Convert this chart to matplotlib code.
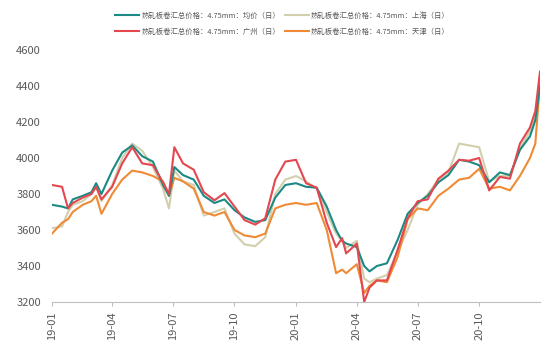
import numpy as np
import pandas as pd
import matplotlib
matplotlib.use("Agg")
import matplotlib.pyplot as plt
import matplotlib.dates as mdates

plt.rcParams['font.family'] = ['Noto Sans CJK SC', 'DejaVu Sans']

dates = ['2019-01-01','2019-01-16','2019-01-25','2019-02-01','2019-02-16','2019-03-01','2019-03-08',
         '2019-03-16','2019-04-01','2019-04-16','2019-05-01','2019-05-16','2019-06-01','2019-06-16',
         '2019-06-25','2019-07-03','2019-07-16','2019-08-01','2019-08-16','2019-09-01','2019-09-16',
         '2019-10-01','2019-10-16','2019-11-01','2019-11-16','2019-12-01','2019-12-16','2020-01-01',
         '2020-01-16','2020-02-01','2020-02-16','2020-03-01','2020-03-10','2020-03-16','2020-04-01',
         '2020-04-12','2020-04-20','2020-05-01','2020-05-16','2020-06-01','2020-06-16','2020-07-01',
         '2020-07-16','2020-08-01','2020-08-16','2020-09-01','2020-09-16','2020-10-01','2020-10-16',
         '2020-11-01','2020-11-16','2020-12-01','2020-12-16','2020-12-24','2020-12-31']

avg = [3740, 3730, 3720, 3770, 3790, 3810, 3860, 3800, 3930, 4030, 4070, 4010, 3980, 3850,
       3790, 3950, 3905, 3880, 3790, 3750, 3770, 3710, 3670, 3645, 3655, 3780, 3850, 3860,
       3840, 3835, 3730, 3600, 3540, 3525, 3505, 3400, 3370, 3400, 3415, 3545, 3690, 3750,
       3790, 3865, 3905, 3990, 3980, 3960, 3865, 3920, 3905, 4045, 4120, 4210, 4400]
guangzhou = [3850, 3840, 3720, 3750, 3780, 3800, 3840, 3770, 3840, 3970, 4060, 3970, 3960, 3865,
             3800, 4060, 3970, 3935, 3810, 3765, 3805, 3730, 3655, 3630, 3665, 3880, 3980, 3990,
             3860, 3835, 3640, 3505, 3555, 3470, 3525, 3200, 3280, 3320, 3320, 3490, 3665, 3760,
             3770, 3885, 3930, 3990, 3985, 4000, 3820, 3895, 3885, 4080, 4170, 4260, 4480]
shanghai = [3610, 3620, 3700, 3740, 3760, 3800, 3840, 3760, 3850, 4000, 4080, 4040, 3950, 3830,
            3720, 3930, 3870, 3850, 3680, 3700, 3720, 3580, 3520, 3510, 3560, 3800, 3880, 3900,
            3870, 3830, 3700, 3580, 3540, 3500, 3540, 3330, 3310, 3330, 3350, 3480, 3600, 3740,
            3800, 3880, 3920, 4080, 4070, 4060, 3870, 3900, 3900, 4050, 4150, 4230, 4400]
tianjin = [3580, 3640, 3660, 3700, 3740, 3760, 3790, 3690, 3800, 3880, 3930, 3920, 3900, 3870,
           3790, 3890, 3870, 3830, 3700, 3680, 3700, 3600, 3570, 3560, 3580, 3720, 3740, 3750,
           3740, 3750, 3600, 3360, 3380, 3360, 3410, 3250, 3290, 3320, 3310, 3450, 3660, 3720,
           3710, 3790, 3830, 3880, 3890, 3940, 3830, 3840, 3820, 3900, 4000, 4080, 4420]

labels = ["热轧板卷汇总价格：4.75mm：均价（日）", "热轧板卷汇总价格：4.75mm：广州（日）",
          "热轧板卷汇总价格：4.75mm：上海（日）", "热轧板卷汇总价格：4.75mm：天津（日）"]
colors = ['#1b8a84', '#e4474f', '#d2cfae', '#ef8a35']

x = pd.to_datetime(dates)
series = [avg, guangzhou, shanghai, tianjin]
# shanghai first so the others sit on top
order = [2, 3, 0, 1]

fig = plt.figure(figsize=(5.59, 3.56), dpi=100)
ax = fig.add_axes([52/559, 1-302/356, (540-52)/559, (302-50)/356])

handles = [None]*4
for i in order:
    h, = ax.plot(x, series[i], color=colors[i], lw=1.5, label=labels[i])
    handles[i] = h

ax.set_ylim(3200, 4600)
ax.set_yticks(np.arange(3200, 4601, 200))
ax.set_xlim(pd.Timestamp('2019-01-01'), pd.Timestamp('2020-12-31'))
ax.xaxis.set_major_locator(mdates.MonthLocator(bymonth=[1, 4, 7, 10]))
ax.xaxis.set_major_formatter(mdates.DateFormatter('%y-%m'))
for s in ['top', 'right', 'left']:
    ax.spines[s].set_visible(False)
ax.spines['bottom'].set_color('#bfbfbf')
ax.tick_params(axis='y', length=0, labelsize=8, colors='#595959', pad=8)
ax.tick_params(axis='x', length=3, color='#bfbfbf', labelsize=8, labelcolor='#595959',
               rotation=90)

fig.legend(handles=handles, loc='upper center', bbox_to_anchor=(0.505, 0.985), ncol=2,
           frameon=False, fontsize=5.3, handlelength=3.3, handletextpad=0.3,
           columnspacing=0.6, labelspacing=1.1, labelcolor='#595959')

fig.savefig('out.png', dpi=100)
